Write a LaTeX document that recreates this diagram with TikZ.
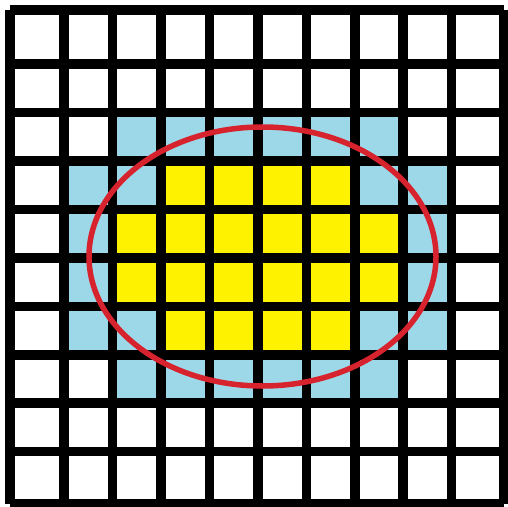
\documentclass[tikz,border=0pt]{standalone}
\definecolor{cellblue}{RGB}{157,216,232}
\definecolor{cellyellow}{RGB}{255,242,0}
\definecolor{ellred}{RGB}{215,35,45}
\begin{document}
\begin{tikzpicture}[x=1bp,y=-1bp,
  gridline/.style={line width=9.5bp, black, line cap=square},
  ring/.style={draw=ellred, line width=5.5bp}]
\useasboundingbox (0,0) rectangle (507,507);
\fill[white] (0,0) rectangle (507,507);
\def\L{{10,64,112.5,161,209.5,258,306.5,355,403,451.5,503.5}}
% coloured cells
\foreach \r/\a/\b/\col in {2/2/7/cellblue,3/1/8/cellblue,4/1/8/cellblue,5/1/8/cellblue,6/1/8/cellblue,7/2/7/cellblue,
  3/3/6/cellyellow,4/2/7/cellyellow,5/2/7/cellyellow,6/3/6/cellyellow}{
  \pgfmathsetmacro{\xa}{\L[\a]}
  \pgfmathsetmacro{\xb}{\L[\b+1]}
  \pgfmathsetmacro{\ya}{\L[\r]}
  \pgfmathsetmacro{\yb}{\L[\r+1]}
  \fill[\col] (\xa,\ya) rectangle (\xb,\yb);
}
% grid lines
\foreach \i in {0,...,10}{
  \pgfmathsetmacro{\p}{\L[\i]}
  \draw[gridline] (\p,10) -- (\p,503.5);
  \draw[gridline] (10,\p) -- (503.5,\p);
}
% ellipse
\draw[ring] (262.5,256.5) ellipse [x radius=173.5bp, y radius=129.5bp];
\end{tikzpicture}
\end{document}
